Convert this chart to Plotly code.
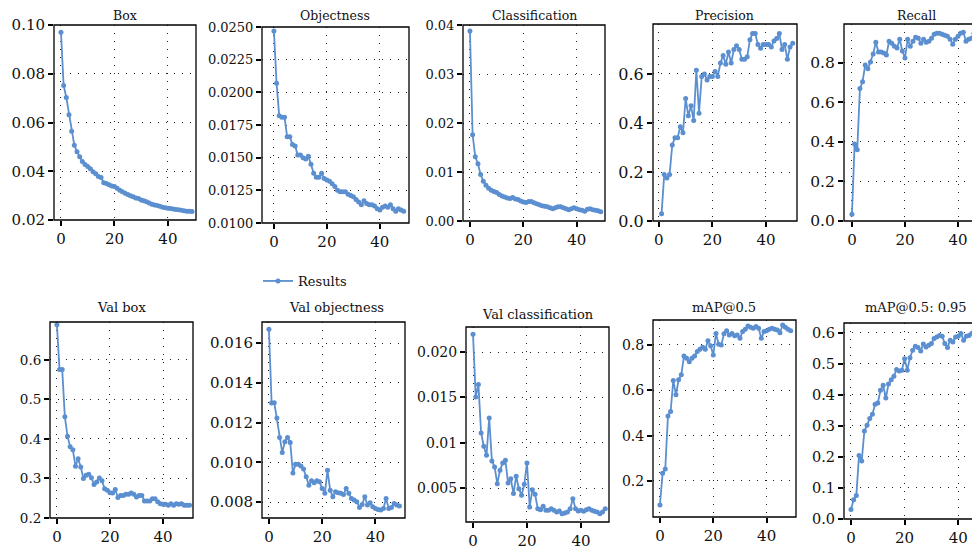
import plotly.graph_objects as go

# training curves
box = [0.097, 0.0752, 0.0703, 0.0632, 0.0564, 0.0507, 0.048, 0.046, 0.044, 0.0428,
       0.042, 0.041, 0.0398, 0.039, 0.0378, 0.0374, 0.0353, 0.035, 0.0345, 0.034,
       0.0337, 0.033, 0.0322, 0.0316, 0.031, 0.0305, 0.030, 0.0295, 0.029, 0.0288,
       0.0282, 0.0279, 0.0275, 0.027, 0.0265, 0.0262, 0.026, 0.0256, 0.0252, 0.025,
       0.0248, 0.0247, 0.0245, 0.0243, 0.0242, 0.024, 0.0238, 0.0236, 0.0236, 0.0235]
objectness = [0.0247, 0.0207, 0.0182, 0.0181, 0.0181, 0.0166, 0.0166, 0.016, 0.0159, 0.0152,
              0.0152, 0.015, 0.0149, 0.0151, 0.0145, 0.0138, 0.0135, 0.0135, 0.0138, 0.0134,
              0.0133, 0.0132, 0.013, 0.0128, 0.0125, 0.0124, 0.0124, 0.0124, 0.0122, 0.0121,
              0.012, 0.0118, 0.0116, 0.0114, 0.0117, 0.0115, 0.0114, 0.0114, 0.0113, 0.0111,
              0.011, 0.0112, 0.0113, 0.0112, 0.0114, 0.0111, 0.0109, 0.0111, 0.011, 0.0109]
classification = [0.0388, 0.0176, 0.0131, 0.0117, 0.0095, 0.0081, 0.0073, 0.0067, 0.0063, 0.006,
                  0.0058, 0.0054, 0.0051, 0.0049, 0.0047, 0.0046, 0.0048, 0.0045, 0.0044, 0.0041,
                  0.0039, 0.0038, 0.004, 0.004, 0.0037, 0.0035, 0.0033, 0.0031, 0.003, 0.0029,
                  0.0027, 0.0025, 0.0027, 0.0029, 0.0029, 0.0027, 0.0025, 0.0023, 0.0025, 0.0027,
                  0.0025, 0.0023, 0.0022, 0.002, 0.0024, 0.0025, 0.0023, 0.0022, 0.0021, 0.0019]
precision = [0.03, 0.19, 0.175, 0.19, 0.31, 0.34, 0.34, 0.385, 0.36, 0.50,
             0.43, 0.47, 0.41, 0.615, 0.44, 0.59, 0.60, 0.575, 0.59, 0.59,
             0.61, 0.59, 0.645, 0.675, 0.64, 0.69, 0.645, 0.70, 0.715, 0.70,
             0.66, 0.66, 0.67, 0.74, 0.765, 0.765, 0.72, 0.705, 0.72, 0.72,
             0.72, 0.71, 0.735, 0.745, 0.765, 0.70, 0.72, 0.66, 0.71, 0.725]
recall = [0.034, 0.39, 0.36, 0.67, 0.705, 0.79, 0.77, 0.805, 0.845, 0.905,
          0.855, 0.855, 0.85, 0.84, 0.91, 0.90, 0.885, 0.875, 0.92, 0.86,
          0.825, 0.92, 0.885, 0.91, 0.93, 0.925, 0.90, 0.92, 0.905, 0.91,
          0.925, 0.945, 0.95, 0.95, 0.945, 0.94, 0.935, 0.92, 0.895, 0.92,
          0.935, 0.95, 0.955, 0.91, 0.92, 0.925, 0.95, 0.935, 0.92, 0.93]
val_box = [0.689, 0.576, 0.576, 0.456, 0.407, 0.38, 0.373, 0.331, 0.35, 0.329,
           0.30, 0.308, 0.311, 0.302, 0.285, 0.291, 0.301, 0.294, 0.274, 0.27,
           0.264, 0.263, 0.272, 0.252, 0.257, 0.257, 0.26, 0.26, 0.263, 0.26,
           0.253, 0.257, 0.257, 0.243, 0.243, 0.243, 0.249, 0.249, 0.241, 0.236,
           0.235, 0.235, 0.232, 0.236, 0.232, 0.236, 0.235, 0.236, 0.232, 0.232, 0.232]
val_objectness = [0.01669, 0.01299, 0.0130, 0.01223, 0.01125, 0.0105, 0.01103, 0.01125, 0.0110, 0.00947,
                  0.0099, 0.0099, 0.00982, 0.00966, 0.00927, 0.00885, 0.00907, 0.00897, 0.00907, 0.00902,
                  0.00869, 0.00844, 0.0096, 0.0086, 0.00827, 0.00852, 0.00847, 0.00844, 0.00838, 0.00869,
                  0.00844, 0.00818, 0.0081, 0.00802, 0.00773, 0.00788, 0.00827, 0.00785, 0.00797, 0.00777,
                  0.00768, 0.00763, 0.0076, 0.00768, 0.00818, 0.00768, 0.00773, 0.00793, 0.00785, 0.0078]
val_classification = [0.02195, 0.01504, 0.01643, 0.01107, 0.0096, 0.0086, 0.01272, 0.00798, 0.00732, 0.00548,
                      0.00695, 0.00776, 0.00805, 0.00555, 0.00603, 0.00438, 0.00629, 0.00493, 0.0042, 0.00541,
                      0.00776, 0.0029, 0.00482, 0.00431, 0.00272, 0.00261, 0.00298, 0.00254, 0.00254, 0.00272,
                      0.00254, 0.00235, 0.00246, 0.00217, 0.00224, 0.00235, 0.00272, 0.00382, 0.00272, 0.00246,
                      0.00254, 0.00243, 0.00261, 0.00272, 0.00254, 0.00243, 0.00235, 0.00217, 0.00235, 0.00272]
map50 = [0.094, 0.234, 0.253, 0.487, 0.506, 0.643, 0.58, 0.646, 0.668, 0.751,
         0.741, 0.726, 0.741, 0.751, 0.771, 0.781, 0.79, 0.781, 0.819, 0.796,
         0.756, 0.851, 0.803, 0.80, 0.849, 0.863, 0.844, 0.851, 0.84, 0.844,
         0.829, 0.859, 0.869, 0.884, 0.878, 0.874, 0.881, 0.874, 0.829, 0.859,
         0.863, 0.869, 0.874, 0.869, 0.866, 0.854, 0.888, 0.878, 0.869, 0.863]
map50_95 = [0.031, 0.062, 0.076, 0.205, 0.187, 0.284, 0.302, 0.324, 0.338, 0.37,
            0.374, 0.415, 0.431, 0.39, 0.435, 0.449, 0.46, 0.482, 0.477, 0.48,
            0.517, 0.48, 0.52, 0.544, 0.557, 0.553, 0.542, 0.564, 0.555, 0.56,
            0.566, 0.582, 0.587, 0.592, 0.589, 0.566, 0.553, 0.576, 0.571, 0.587,
            0.589, 0.598, 0.576, 0.589, 0.592, 0.598, 0.609, 0.60, 0.603, 0.60]

titles = ["Box", "Objectness", "Classification", "Precision", "Recall",
          "Val box", "Val objectness", "Val classification", "mAP@0.5", "mAP@0.5: 0.95"]
series = [box, objectness, classification, precision, recall,
          val_box, val_objectness, val_classification, map50, map50_95]
first_epoch = [0, 0, 0, 1, 0, 0, 0, 0, 0, 0]

x_ticks = [0, 20, 40]
y_ticks = [
    [0.02, 0.04, 0.06, 0.08, 0.10],
    [0.0100, 0.0125, 0.0150, 0.0175, 0.0200, 0.0225, 0.0250],
    [0.00, 0.01, 0.02, 0.03, 0.04],
    [0.0, 0.2, 0.4, 0.6],
    [0.0, 0.2, 0.4, 0.6, 0.8],
    [0.2, 0.3, 0.4, 0.5, 0.6],
    [0.008, 0.010, 0.012, 0.014, 0.016],
    [0.005, 0.01, 0.015, 0.020],
    [0.2, 0.4, 0.6, 0.8],
    [0.0, 0.1, 0.2, 0.3, 0.4, 0.5, 0.6],
]
y_labels = [
    ["0.02", "0.04", "0.06", "0.08", "0.10"],
    ["0.0100", "0.0125", "0.0150", "0.0175", "0.0200", "0.0225", "0.0250"],
    ["0.00", "0.01", "0.02", "0.03", "0.04"],
    ["0.0", "0.2", "0.4", "0.6"],
    ["0.0", "0.2", "0.4", "0.6", "0.8"],
    ["0.2", "0.3", "0.4", "0.5", "0.6"],
    ["0.008", "0.010", "0.012", "0.014", "0.016"],
    ["0.005", "0.01", "0.015", "0.020"],
    ["0.2", "0.4", "0.6", "0.8"],
    ["0.0", "0.1", "0.2", "0.3", "0.4", "0.5", "0.6"],
]

W, H = 980, 552
OFF = 8  # the page puts the plot 8px in from the top-left corner
BLUE = "#5b8fd0"
FONT = "DejaVu Serif"

# panel boxes in screen pixels: left, right, top, bottom, x range, y range, title centre, y tick size
panels = [
    dict(l=54, r=196, t=25, b=220, xr=[-2.6, 50.5], yr=[0.02, 0.10], tx=125, ty=16, fs=15),
    dict(l=262, r=409, t=27, b=223, xr=[-4.5, 51], yr=[0.01, 0.025], tx=335, ty=16, fs=13),
    dict(l=463, r=605, t=25, b=221, xr=[-2.6, 50.6], yr=[0.0, 0.04], tx=534, ty=16, fs=13),
    dict(l=653, r=797, t=24, b=221, xr=[-2.2, 51.6], yr=[0.0, 0.804], tx=724, ty=16, fs=16),
    dict(l=844, r=988, t=24, b=221, xr=[-3, 51.3], yr=[0.0, 0.997], tx=916, ty=16, fs=15.5, cut=True),
    dict(l=50, r=193, t=322, b=518, xr=[-2.6, 51.3], yr=[0.2, 0.696], tx=121, ty=307, fs=13.5),
    dict(l=262, r=405, t=322, b=518, xr=[-2.6, 51.1], yr=[0.0072, 0.01706], tx=336, ty=307, fs=15),
    dict(l=466, r=609, t=327, b=522, xr=[-2.6, 50.4], yr=[0.00125, 0.02276], tx=538, ty=314, fs=14),
    dict(l=653, r=796, t=320, b=517, xr=[-2.6, 51], yr=[0.041, 0.91], tx=724, ty=307, fs=14),
    dict(l=844, r=988, t=323, b=519, xr=[-2.6, 51.1], yr=[0.0, 0.632], tx=916, ty=307, fs=14.5, cut=True),
]

fig = go.Figure()
shapes = []
annotations = []
layout = {}

for i, (p, ys, name) in enumerate(zip(panels, series, titles)):
    n = i + 1
    sfx = "" if n == 1 else str(n)
    epochs = list(range(first_epoch[i], first_epoch[i] + len(ys)))
    fig.add_trace(go.Scatter(
        x=epochs, y=ys, mode="lines+markers", name="Results",
        showlegend=(i == 0), xaxis="x" + sfx, yaxis="y" + sfx,
        line=dict(color=BLUE, width=1.8), marker=dict(color=BLUE, size=5),
    ))
    common = dict(
        ticks="outside", ticklen=5, tickwidth=1.5, tickcolor="black",
        showgrid=True, gridcolor="#222", griddash="1px,7px", gridwidth=1,
        zeroline=False, showline=False, automargin=False,
    )
    l, r = (p["l"] - OFF) / W, min((p["r"] - OFF) / W, 1)
    b, t = (H - p["b"] + OFF) / H, (H - p["t"] + OFF) / H
    layout["xaxis" + sfx] = dict(
        domain=[l, r], range=p["xr"], anchor="y" + sfx,
        tickvals=x_ticks, tickfont=dict(family=FONT, size=15, color="#111"), **common)
    layout["yaxis" + sfx] = dict(
        domain=[b, t], range=p["yr"], anchor="x" + sfx,
        tickvals=y_ticks[i], ticktext=y_labels[i],
        tickfont=dict(family=FONT, size=p["fs"], color="#111"), **common)
    shapes.append(dict(
        type="rect", xref="x" + sfx + " domain", yref="y" + sfx + " domain",
        x0=0, x1=1.2 if p.get("cut") else 1, y0=0, y1=1,
        line=dict(color="black", width=1.3), layer="above"))
    annotations.append(dict(
        text=name, x=(p["tx"] - OFF) / W, y=(H - p["ty"] + OFF) / H, xref="paper", yref="paper",
        xanchor="center", yanchor="middle", showarrow=False,
        font=dict(family=FONT, size=12.5 if i < 5 else 13, color="#111")))

fig.update_layout(
    template="none",
    width=W, height=H, margin=dict(l=0, r=0, t=0, b=0, pad=0, autoexpand=False),
    paper_bgcolor="white", plot_bgcolor="white",
    shapes=shapes, annotations=annotations,
    showlegend=True,
    legend=dict(x=(258 - OFF) / W, y=(H - 281 + OFF) / H, xanchor="left", yanchor="middle",
                bgcolor="rgba(0,0,0,0)", font=dict(family=FONT, size=13, color="#111")),
    **layout,
)

fig.write_html("out.html")
